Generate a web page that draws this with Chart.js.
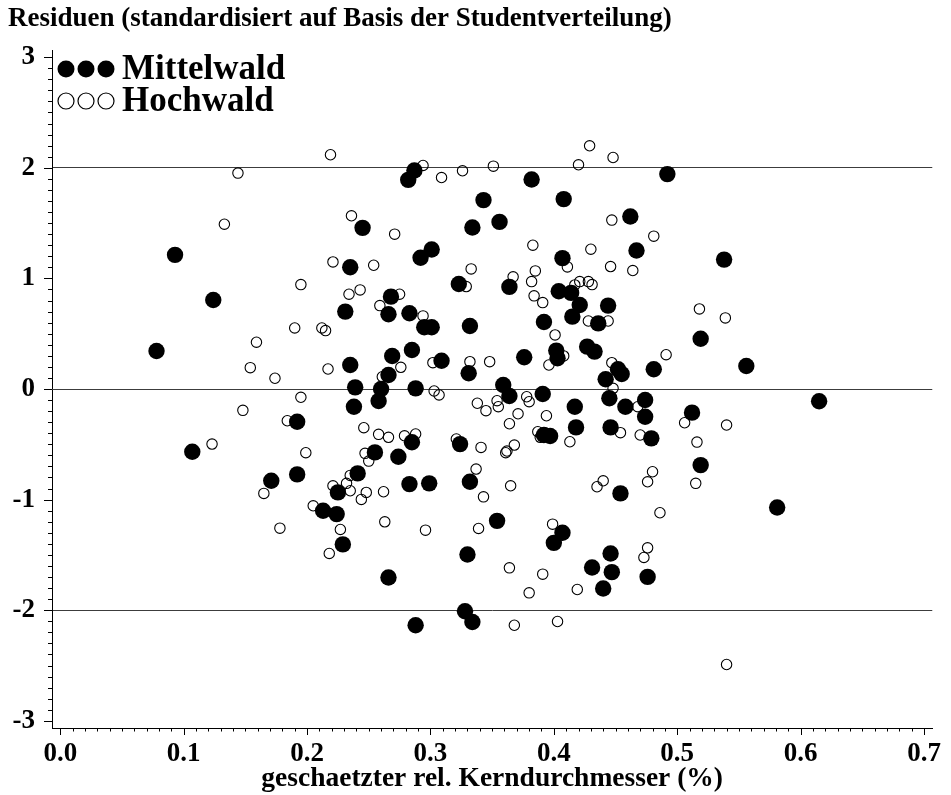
<!DOCTYPE html>
<html><head><meta charset="utf-8">
<script src="https://cdn.jsdelivr.net/npm/chart.js@4.4.1/dist/chart.umd.min.js"></script>
<style>html,body{margin:0;padding:0;background:#fff;}canvas{display:block;}</style>
</head><body>
<canvas id="c" width="951" height="795"></canvas>
<script>
const chartTitle = "Residuen (standardisiert auf Basis der Studentverteilung)";
const xAxisTitle = "geschaetzter rel. Kerndurchmesser (%)";
const seriesNames = ["Mittelwald", "Hochwald"];
const xTickValues = [0, 0.1, 0.2, 0.3, 0.4, 0.5, 0.6, 0.7];
const xTickLabels = ["0.0", "0.1", "0.2", "0.3", "0.4", "0.5", "0.6", "0.7"];
const yTickValues = [-3, -2, -1, 0, 1, 2, 3];
const yTickLabels = ["-3", "-2", "-1", "0", "1", "2", "3"];
const refLines = [-2, 0, 2];

const mittelwaldX = [0.093,0.124,0.287,0.282,0.245,0.301,0.292,0.235,0.323,0.268,
0.231,0.266,0.283,0.382,0.343,0.408,0.356,0.334,0.462,0.407,
0.467,0.364,0.404,0.414,0.421,0.444,0.415,0.392,0.332,0.436,
0.492,0.538,0.295,0.301,0.078,0.107,0.235,0.269,0.285,0.266,
0.309,0.331,0.239,0.260,0.288,0.258,0.238,0.192,0.285,0.324,
0.255,0.274,0.192,0.171,0.241,0.225,0.283,0.299,0.332,0.519,
0.376,0.402,0.403,0.427,0.433,0.452,0.455,0.442,0.481,0.359,
0.364,0.391,0.417,0.445,0.458,0.474,0.474,0.512,0.418,0.446,
0.479,0.392,0.397,0.519,0.454,0.556,0.615,0.581,0.213,0.224,
0.229,0.330,0.266,0.288,0.328,0.334,0.354,0.407,0.400,0.476,
0.446,0.431,0.447,0.440];
const mittelwaldY = [1.213,0.805,1.976,1.891,1.457,1.261,1.186,1.101,0.950,0.835,
0.700,0.676,0.685,1.894,1.708,1.717,1.511,1.460,1.559,1.183,
1.252,0.923,0.884,0.869,0.760,0.754,0.654,0.606,0.570,0.593,
1.943,1.170,0.558,0.558,0.344,-0.567,0.217,0.299,0.353,0.127,
0.256,0.142,0.015,0.000,0.006,-0.109,-0.160,-0.296,-0.482,-0.498,
-0.573,-0.613,-0.772,-0.830,-0.763,-0.935,-0.860,-0.853,-0.839,0.455,
0.287,0.347,0.278,0.383,0.338,0.178,0.136,0.088,0.178,0.036,
-0.063,-0.045,-0.160,-0.084,-0.160,-0.100,-0.251,-0.214,-0.347,-0.347,
-0.446,-0.416,-0.425,-0.688,-0.944,0.208,-0.111,-1.071,-1.101,-1.131,
-1.405,-1.496,-1.704,-2.136,-2.009,-2.106,-1.192,-1.300,-1.391,-1.699,
-1.487,-1.614,-1.656,-1.804];

const hochwaldX = [0.144,0.133,0.219,0.294,0.309,0.326,0.236,0.271,0.221,0.254,
0.195,0.234,0.243,0.275,0.259,0.294,0.429,0.448,0.351,0.420,
0.447,0.481,0.383,0.411,0.430,0.446,0.464,0.333,0.329,0.367,
0.385,0.382,0.384,0.391,0.417,0.421,0.428,0.431,0.428,0.444,
0.518,0.539,0.123,0.148,0.190,0.212,0.215,0.159,0.154,0.174,
0.217,0.276,0.261,0.302,0.332,0.303,0.307,0.195,0.338,0.184,
0.246,0.258,0.266,0.279,0.288,0.321,0.199,0.247,0.250,0.165,
0.235,0.232,0.221,0.235,0.248,0.262,0.244,0.337,0.401,0.348,
0.408,0.396,0.447,0.448,0.491,0.345,0.354,0.355,0.378,0.380,
0.371,0.364,0.394,0.468,0.506,0.454,0.470,0.387,0.389,0.413,
0.516,0.515,0.341,0.368,0.362,0.361,0.365,0.343,0.480,0.476,
0.440,0.435,0.540,0.205,0.178,0.227,0.218,0.263,0.296,0.339,
0.399,0.486,0.476,0.473,0.364,0.391,0.380,0.419,0.368,0.403,
0.540];
const hochwaldY = [1.952,1.490,2.118,2.021,1.912,1.973,1.566,1.400,1.149,1.119,
0.944,0.857,0.896,0.857,0.754,0.661,2.199,2.093,2.015,2.027,
1.527,1.382,1.300,1.104,1.264,1.107,1.071,1.086,0.926,1.014,
1.068,0.971,0.842,0.781,0.941,0.971,0.971,0.944,0.615,0.615,
0.724,0.643,-0.498,-0.193,0.552,0.552,0.528,0.423,0.193,0.097,
0.181,0.196,0.111,0.238,0.247,-0.018,-0.054,-0.075,-0.129,-0.287,
-0.350,-0.410,-0.437,-0.423,-0.407,-0.452,-0.576,-0.582,-0.652,-0.944,
-0.781,-0.853,-0.875,-0.920,-0.935,-0.929,-0.998,-0.724,0.489,0.247,
0.299,0.217,0.238,0.006,0.310,-0.196,-0.106,-0.160,-0.070,-0.115,
-0.224,-0.314,-0.242,-0.160,-0.305,-0.395,-0.416,-0.386,-0.437,-0.477,
-0.480,-0.853,-0.528,-0.507,-0.561,-0.576,-0.875,-0.975,-0.748,-0.839,
-0.830,-0.884,-0.326,-1.056,-1.258,-1.270,-1.487,-1.201,-1.276,-1.261,
-1.222,-1.119,-1.436,-1.523,-1.617,-1.674,-1.843,-1.813,-2.136,-2.102,
-2.491];

const serif = "'Liberation Serif', 'Times New Roman', serif";
Chart.defaults.font.family = serif;
Chart.defaults.color = '#000';

const minorTicks = {
  id: 'minorTicks',
  afterDraw(chart) {
    const ctx = chart.ctx, xs = chart.scales.x, ys = chart.scales.y;
    ctx.save();
    ctx.strokeStyle = '#000';
    ctx.lineWidth = 1;
    ctx.beginPath();
    for (let i = 0; i <= 70; i++) {
      const px = Math.round(xs.getPixelForValue(i / 100)) + 0.5;
      const len = i % 10 === 0 ? 7 : 3.5;
      ctx.moveTo(px, xs.top);
      ctx.lineTo(px, xs.top + len);
    }
    for (let i = -30; i <= 30; i++) {
      const py = Math.round(ys.getPixelForValue(i / 10)) + 0.5;
      const len = i % 10 === 0 ? 8 : 4;
      ctx.moveTo(ys.right, py);
      ctx.lineTo(ys.right - len, py);
    }
    ctx.stroke();
    ctx.restore();
  }
};

const legendPlug = {
  id: 'legendPlug',
  afterDatasetsDraw(chart) {
    const ctx = chart.ctx, a = chart.chartArea;
    ctx.save();
    const rows = [
      {name: seriesNames[0], filled: true, dy: 19},
      {name: seriesNames[1], filled: false, dy: 51}
    ];
    rows.forEach(r => {
      const cy = a.top + r.dy;
      [14, 34, 54].forEach(dx => {
        ctx.beginPath();
        ctx.arc(a.left + dx, cy, r.filled ? 8.5 : 8, 0, Math.PI * 2);
        if (r.filled) { ctx.fillStyle = '#000'; ctx.fill(); }
        else { ctx.strokeStyle = '#000'; ctx.lineWidth = 1.2; ctx.stroke(); }
      });
      ctx.fillStyle = '#000';
      ctx.font = "bold 35px " + serif;
      ctx.textBaseline = 'middle';
      ctx.textAlign = 'left';
      ctx.fillText(r.name, a.left + 70, cy + 1);
    });
    ctx.restore();
  }
};

const tickFont = {family: serif, size: 27, weight: 'bold'};

new Chart(document.getElementById('c'), {
  type: 'scatter',
  data: {
    datasets: [
      {
        label: seriesNames[0],
        data: mittelwaldX.map((x, i) => ({x: x, y: mittelwaldY[i]})),
        pointRadius: 8.2,
        pointBackgroundColor: '#000',
        pointBorderWidth: 0,
        pointBorderColor: '#000'
      },
      {
        label: seriesNames[1],
        data: hochwaldX.map((x, i) => ({x: x, y: hochwaldY[i]})),
        pointRadius: 5.2,
        pointBackgroundColor: 'rgba(0,0,0,0)',
        pointBorderWidth: 1.1,
        pointBorderColor: '#000'
      }
    ]
  },
  options: {
    responsive: false,
    animation: false,
    events: [],
    layout: {padding: {left: 8, right: 13, top: 0, bottom: 0}},
    plugins: {
      legend: {display: false},
      tooltip: {enabled: false},
      title: {
        display: true, text: chartTitle, align: 'start', color: '#000',
        font: {family: serif, size: 27, weight: 'bold'},
        padding: {top: 2.5, bottom: 15.1}
      }
    },
    scales: {
      x: {
        type: 'linear', min: -0.0067, max: 0.7067,
        afterBuildTicks: s => { s.ticks = xTickValues.map(v => ({value: v})); },
        afterFit: s => { s.height = 67; },
        ticks: {
          font: tickFont, color: '#000', padding: 10, maxRotation: 0, autoSkip: false,
          callback: v => xTickLabels[xTickValues.indexOf(v)]
        },
        grid: {display: false, drawTicks: false},
        border: {display: true, color: '#000', width: 1},
        title: {display: true, text: xAxisTitle, color: '#000', font: {family: serif, size: 27.5, weight: 'bold'}, padding: {top: 0, bottom: 0}}
      },
      y: {
        type: 'linear', min: -3.065, max: 3.065,
        afterBuildTicks: s => { s.ticks = yTickValues.map(v => ({value: v})); },
        afterFit: s => { s.width = 44; },
        ticks: {
          font: tickFont, color: '#000', padding: 17, autoSkip: false,
          callback: v => yTickLabels[yTickValues.indexOf(v)]
        },
        grid: {
          display: true, drawTicks: false, lineWidth: 1,
          color: c => (c.tick && refLines.includes(c.tick.value)) ? '#3c3c3c' : 'rgba(0,0,0,0)'
        },
        border: {display: true, color: '#000', width: 1}
      }
    }
  },
  plugins: [minorTicks, legendPlug]
});
</script>
</body></html>
